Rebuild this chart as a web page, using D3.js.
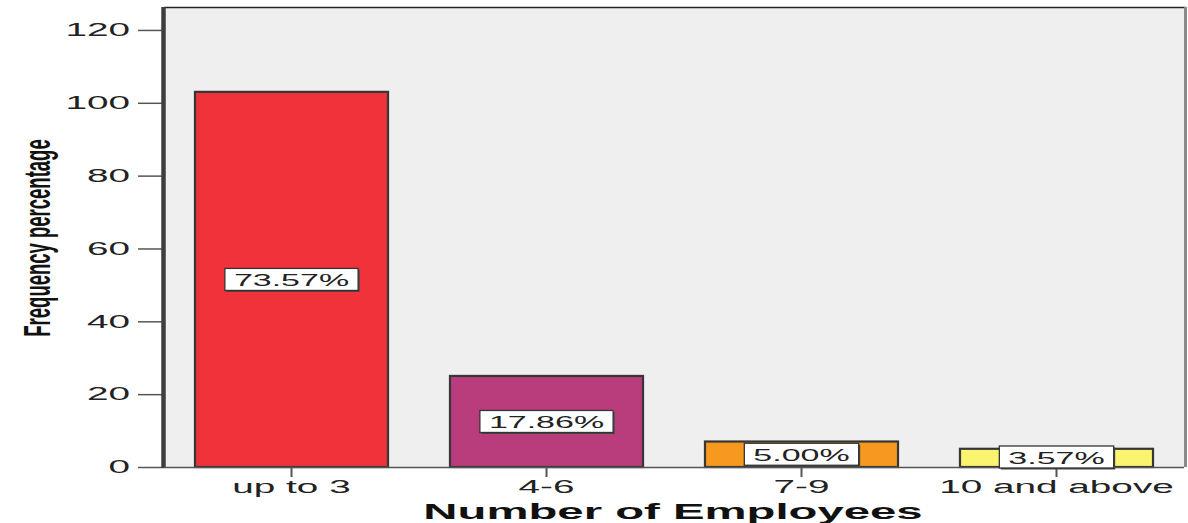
<!DOCTYPE html>
<html>
<head>
<meta charset="utf-8">
<script src="https://cdn.jsdelivr.net/npm/d3@7"></script>
<style>
  html, body { margin: 0; padding: 0; background: #fff; }
  svg { display: block; }
  text { font-family: "Liberation Sans", Arial, sans-serif; }
</style>
</head>
<body>
<svg id="chart" width="1188" height="523"></svg>
<script>
// ---- data ----
const categories = ["up to 3", "4-6", "7-9", "10 and above"];
const counts = [103, 25, 7, 5];
const percentLabels = ["73.57%", "17.86%", "5.00%", "3.57%"];
const yTicks = [0, 20, 40, 60, 80, 100, 120];
const barColors = ["#f0333b", "#b93d7c", "#f7981f", "#fbf46f"];
const yMax = 126.3;
const xTitle = "Number of Employees";
const yTitle = "Frequency percentage";

// ---- layout ----
const W = 1188, H = 523;
const plot = { left: 164, right: 1184, top: 7, bottom: 467 };
const SX = 2.15; // horizontal stretch of the text

const svg = d3.select("#chart");

const x = d3.scaleBand()
  .domain(categories)
  .range([plot.left, plot.right])
  .paddingInner(0.243)
  .paddingOuter(0.1215);

const y = d3.scaleLinear()
  .domain([0, yMax])
  .range([plot.bottom, plot.top]);

function stretch(sel, sx) {
  sel.each(function () {
    const t = d3.select(this);
    const tx = +t.attr("x") || 0;
    const ty = +t.attr("y") || 0;
    t.attr("transform", `translate(${tx},${ty}) scale(${sx},1)`)
     .attr("x", 0).attr("y", 0);
  });
}

// plot background
svg.append("rect")
  .attr("x", plot.left).attr("y", plot.top)
  .attr("width", plot.right - plot.left)
  .attr("height", plot.bottom - plot.top)
  .attr("fill", "#efefef");

// frame: top & right
svg.append("line")
  .attr("x1", plot.left).attr("x2", plot.right + 2)
  .attr("y1", plot.top + 0.5).attr("y2", plot.top + 0.5)
  .attr("stroke", "#222").attr("stroke-width", 1.5);
svg.append("line")
  .attr("x1", plot.right + 1.5).attr("x2", plot.right + 1.5)
  .attr("y1", plot.top).attr("y2", plot.bottom)
  .attr("stroke", "#8a8a8a").attr("stroke-width", 3);

// bars
const data = categories.map((c, i) => ({ c, v: counts[i], p: percentLabels[i], col: barColors[i] }));
const bars = svg.append("g");
bars.selectAll("rect.bar")
  .data(data)
  .join("rect")
  .attr("class", "bar")
  .attr("x", d => x(d.c))
  .attr("y", d => y(d.v))
  .attr("width", x.bandwidth())
  .attr("height", d => y(0) - y(d.v))
  .attr("fill", d => d.col)
  .attr("stroke", "#363636")
  .attr("stroke-width", 2.2);

// y axis
const yAxis = d3.axisLeft(y).tickValues(yTicks).tickSize(26).tickPadding(8).tickFormat(d3.format("d"));
const gy = svg.append("g").attr("transform", `translate(${plot.left},0)`).call(yAxis);
gy.select(".domain").remove();
gy.selectAll(".tick line").attr("stroke", "#555").attr("stroke-width", 1.5);
gy.selectAll(".tick text")
  .attr("font-size", 18).attr("fill", "#222")
  .call(stretch, SX);
svg.append("line")
  .attr("x1", plot.left - 0.5).attr("x2", plot.left - 0.5)
  .attr("y1", plot.top).attr("y2", plot.bottom + 1)
  .attr("stroke", "#3e3e3e").attr("stroke-width", 4.5);

// x axis
const xAxis = d3.axisBottom(x).tickSize(10).tickPadding(3);
const gx = svg.append("g").attr("transform", `translate(0,${plot.bottom})`).call(xAxis);
gx.select(".domain").remove();
gx.selectAll(".tick line").attr("stroke", "#555").attr("stroke-width", 2);
gx.selectAll(".tick text")
  .attr("font-size", 18).attr("fill", "#222")
  .call(stretch, SX);
svg.append("line")
  .attr("x1", plot.left).attr("x2", plot.right)
  .attr("y1", plot.bottom + 0.5).attr("y2", plot.bottom + 0.5)
  .attr("stroke", "#555").attr("stroke-width", 1.5);

// value labels
const LSX = 2.0, LFS = 17, BOXH = 22, PADX = 9;
const labels = svg.append("g");
data.forEach(d => {
  const cx = x(d.c) + x.bandwidth() / 2;
  let cy = (y(d.v) + y(0)) / 2;
  cy = Math.min(cy, y(0) - BOXH / 2 + 1);
  const g = labels.append("g");
  const shadow = g.append("rect");
  const box = g.append("rect");
  const t = g.append("text")
    .attr("text-anchor", "middle")
    .attr("dominant-baseline", "central")
    .attr("font-size", LFS)
    .attr("fill", "#222")
    .attr("transform", `translate(${cx},${cy + 1}) scale(${LSX},1)`)
    .text(d.p);
  const tw = t.node().getComputedTextLength() * LSX;
  const bw = tw + 2 * PADX;
  shadow.attr("x", cx - bw / 2 + 1.5).attr("y", cy - BOXH / 2 + 1.5)
    .attr("width", bw).attr("height", BOXH).attr("fill", "#444");
  box.attr("x", cx - bw / 2).attr("y", cy - BOXH / 2)
    .attr("width", bw).attr("height", BOXH)
    .attr("fill", "#fff").attr("stroke", "#333").attr("stroke-width", 1.3);
});

// axis titles
svg.append("text")
  .attr("text-anchor", "middle")
  .attr("font-size", 22).attr("font-weight", "bold").attr("fill", "#111")
  .attr("transform", `translate(673,519) scale(${SX},1)`)
  .text(xTitle);

svg.append("text")
  .attr("text-anchor", "middle")
  .attr("font-size", 18.5).attr("font-weight", "bold").attr("fill", "#111")
  .attr("transform", `translate(50,238) scale(2,1) rotate(-90)`)
  .text(yTitle);
</script>
</body>
</html>
